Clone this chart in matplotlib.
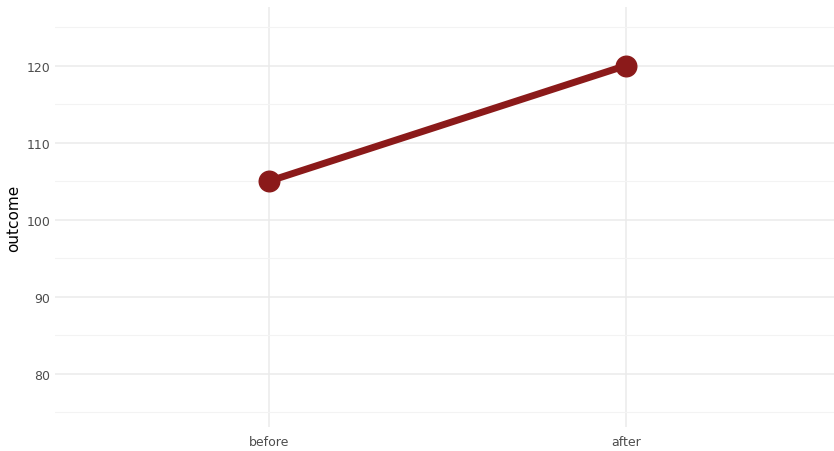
import matplotlib.pyplot as plt

conditions = ['before', 'after']
outcome = [105, 120]
major_ticks = [80, 90, 100, 110, 120]
minor_ticks = [75, 85, 95, 105, 115, 125]

fig = plt.figure(figsize=(8.34, 4.52), dpi=100)
ax = fig.add_axes([55 / 834, 1 - 428 / 452, 785 / 834, 420 / 452])

x = list(range(1, len(conditions) + 1))
ax.plot(x, outcome, color='#8b1a1a', linewidth=5, zorder=3, solid_capstyle='butt')
ax.scatter(x, outcome, color='#8b1a1a', s=220, zorder=4)

ax.set_xlim(0.4, 2.6)
ax.set_ylim(73.1, 127.6)
ax.set_xticks(x)
ax.set_xticklabels(conditions)
ax.set_yticks(major_ticks)
ax.set_yticks(minor_ticks, minor=True)
ax.grid(True, which='major', color='#ebebeb', linewidth=1.1)
ax.grid(True, which='minor', axis='y', color='#f3f3f3', linewidth=0.8)
ax.set_axisbelow(True)
for s in ax.spines.values():
    s.set_visible(False)
ax.tick_params(which='both', length=0, colors='#4d4d4d', labelsize=9)
ax.tick_params(axis='x', pad=6)
ax.set_ylabel('outcome', fontsize=11, color='black')

fig.savefig('out.png', dpi=100)
